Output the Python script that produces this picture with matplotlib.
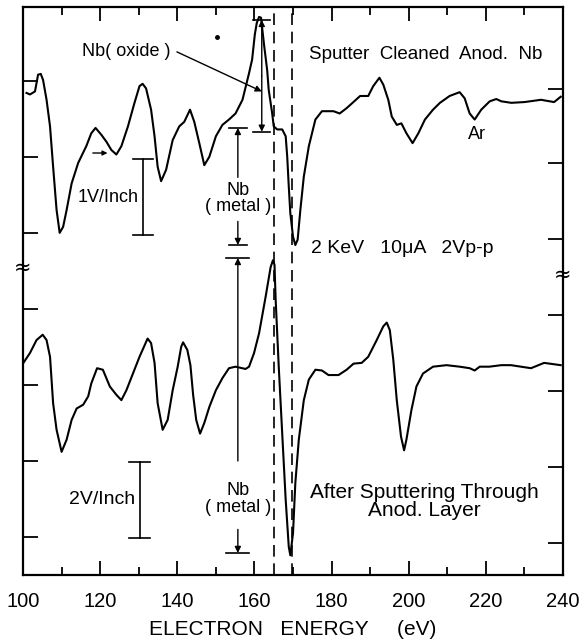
"""
Auger spectra of anodized Nb: sputter cleaned surface vs. after
sputtering through the anodic layer (dN/dE, arbitrary offsets).
Output: out.png (583x644 px)
"""

import matplotlib
matplotlib.use("Agg")
import matplotlib.pyplot as plt

plt.rcParams['font.family'] = ['Liberation Sans', 'DejaVu Sans']

# Upper trace: sputter cleaned anodized Nb (energy eV, signal in chart divisions)
upper_energy = [100.9, 101.8, 103.1, 103.9, 104.6, 105.2, 106.1, 107.0, 107.8, 108.7,
                109.5, 110.4, 111.3, 112.6, 114.3, 116.4, 117.7, 118.8, 120.3, 121.6,
                122.9, 124.2, 125.5, 127.2, 128.9, 130.2, 131.0, 131.9, 133.2, 134.1,
                134.9, 135.8, 137.1, 138.8, 140.5, 141.8, 143.3, 144.4, 145.7, 147.0,
                148.3, 150.0, 151.7, 153.4, 155.1, 156.9, 158.6, 159.4, 160.1, 160.6,
                161.2, 161.7, 162.5, 163.3, 163.7, 164.6, 165.0, 165.9, 167.2, 168.1,
                168.5, 168.9, 169.3, 170.0, 170.6, 171.2, 171.9, 172.8, 174.1, 175.8,
                177.5, 180.5, 182.1, 183.9, 187.4, 189.5, 190.8, 192.4, 193.4, 194.7,
                195.6, 196.9, 198.1, 199.4, 201.0, 202.5, 204.2, 206.3, 208.1, 210.6,
                213.2, 214.5, 215.8, 217.1, 218.8, 221.0, 222.7, 224.0, 226.6, 230.0,
                234.3, 237.7, 239.4]
upper_signal = [6.34, 6.32, 6.36, 6.58, 6.59, 6.51, 6.25, 5.90, 5.37, 4.80,
                4.50, 4.58, 4.80, 5.15, 5.42, 5.64, 5.81, 5.88, 5.79, 5.70,
                5.59, 5.53, 5.64, 5.90, 6.21, 6.43, 6.46, 6.40, 6.12, 5.77,
                5.37, 5.18, 5.33, 5.72, 5.90, 5.96, 6.12, 5.96, 5.68, 5.39,
                5.50, 5.77, 5.92, 5.99, 6.07, 6.25, 6.60, 6.78, 7.11, 7.26,
                7.34, 7.33, 6.97, 6.64, 6.38, 6.07, 5.90, 5.86, 5.86, 5.77,
                5.50, 5.11, 4.76, 4.45, 4.34, 4.41, 4.80, 5.24, 5.64, 5.99,
                6.10, 6.10, 6.07, 6.14, 6.30, 6.30, 6.43, 6.54, 6.45, 6.25,
                6.03, 5.92, 5.94, 5.81, 5.68, 5.81, 5.99, 6.12, 6.21, 6.30,
                6.35, 6.27, 6.07, 5.99, 6.12, 6.23, 6.26, 6.23, 6.21, 6.22,
                6.25, 6.22, 6.29]

# Lower trace: after sputtering through the anodic layer
lower_energy = [100.1, 101.8, 103.5, 105.1, 106.1, 107.0, 107.8, 108.7, 110.0, 111.3,
                112.6, 113.9, 115.6, 116.9, 117.7, 119.2, 120.7, 122.5, 124.2, 125.5,
                126.8, 128.5, 130.2, 132.3, 133.2, 134.1, 134.9, 136.2, 137.5, 138.8,
                140.1, 141.0, 141.5, 142.6, 143.4, 144.1, 144.9, 145.9, 147.0, 148.3,
                150.0, 151.7, 153.4, 155.1, 157.7, 158.6, 159.9, 161.2, 162.9, 164.2,
                164.8, 165.2, 165.5, 166.3, 167.2, 168.1, 168.9, 169.3, 170.0, 170.6,
                171.5, 172.8, 174.1, 175.8, 177.5, 179.2, 181.8, 183.9, 185.7, 187.8,
                189.5, 191.7, 193.4, 194.3, 195.1, 196.0, 196.9, 198.0, 198.8, 199.4,
                200.7, 202.0, 203.7, 206.3, 209.8, 213.2, 215.8, 217.1, 218.4, 220.9,
                224.0, 226.5, 231.7, 235.1, 239.4]
lower_signal = [2.79, 2.92, 3.09, 3.16, 3.09, 2.87, 2.26, 1.91, 1.62, 1.78,
                2.04, 2.19, 2.24, 2.35, 2.52, 2.72, 2.70, 2.48, 2.37, 2.30,
                2.43, 2.65, 2.87, 3.11, 3.05, 2.79, 2.26, 1.91, 2.04, 2.43,
                2.74, 3.00, 3.06, 2.96, 2.76, 2.37, 2.04, 1.86, 2.00, 2.21,
                2.43, 2.59, 2.72, 2.74, 2.71, 2.74, 2.92, 3.18, 3.66, 4.05,
                4.14, 4.08, 3.62, 2.74, 1.86, 0.99, 0.37, 0.26, 0.55, 1.21,
                1.78, 2.30, 2.57, 2.70, 2.69, 2.63, 2.63, 2.70, 2.78, 2.79,
                2.87, 3.09, 3.27, 3.32, 3.22, 2.83, 2.30, 1.82, 1.64, 1.78,
                2.17, 2.48, 2.65, 2.74, 2.76, 2.74, 2.72, 2.69, 2.74, 2.74,
                2.76, 2.76, 2.72, 2.79, 2.76]

# Reference lines (eV) and axis ticks
dashed_energy = [165.0, 169.7]
xtick_major = [100, 120, 140, 160, 180, 200, 220, 240]
xtick_minor = [110, 130, 150, 170, 190, 210, 230]
ytick_left = [0.5, 1.5, 2.5, 3.5, 4.5, 5.5, 6.5]
ytick_right = [0.42, 1.42, 2.42, 3.42, 4.42, 5.42, 6.39]

# Peak-to-peak dimension markers (energy, top, bottom)
oxide_dim = (161.9, 7.30, 5.83)
metal_upper_dim = (155.7, 5.88, 4.34)
metal_lower_dim = (155.7, 4.17, 0.29)

LW = 1.5
TXT = 13

fig = plt.figure(figsize=(5.83, 6.44), dpi=100)
ax = fig.add_axes([0.0395, 0.1071, 0.9262, 0.882])

ax.plot(upper_energy, upper_signal, color='black', linewidth=LW)
ax.plot(lower_energy, lower_signal, color='black', linewidth=LW)

for e in dashed_energy:
    ax.axvline(e, color='black', linewidth=1.2, linestyle=(0, (7, 4)))

ax.set_xlim(100, 240)
ax.set_ylim(0, 7.47)
for side in ax.spines.values():
    side.set_linewidth(1.6)

ax.set_xticks(xtick_major)
ax.set_xticks(xtick_minor, minor=True)
ax.set_xticklabels([str(v) for v in xtick_major], fontsize=14.5)
ax.set_yticks(ytick_left)
ax.set_yticklabels([])
ax.tick_params(axis='x', which='major', direction='in', length=10, width=1.3,
               top=True, pad=12)
ax.tick_params(axis='x', which='minor', direction='in', length=6, width=1.3,
               top=True)
ax.tick_params(axis='y', direction='in', length=11, width=1.3)

ax2 = ax.twinx()
ax2.set_ylim(0, 7.47)
ax2.set_yticks(ytick_right)
ax2.set_yticklabels([])
ax2.tick_params(axis='y', direction='in', length=11, width=1.3)
for side in ax2.spines.values():
    side.set_visible(False)

ax.set_xlabel('ELECTRON   ENERGY     (eV)', fontsize=15, labelpad=7)

# axis break marks
ax.text(0.0, 4.04, '≈', transform=ax.get_yaxis_transform(), fontsize=15,
        ha='center', va='center', family='DejaVu Sans')
ax.text(1.0, 3.95, '≈', transform=ax.get_yaxis_transform(), fontsize=15,
        ha='center', va='center', family='DejaVu Sans')

head = dict(arrowstyle='-|>', color='black', linewidth=1.0,
            mutation_scale=9, shrinkA=0, shrinkB=0)


def dimension(e, top, bottom, bar_half, text_y=None, gap=None, label=None):
    ax.plot([e - bar_half, e + bar_half], [top, top], color='black', linewidth=1.2)
    ax.plot([e - bar_half, e + bar_half], [bottom, bottom], color='black', linewidth=1.2)
    if label is None:
        ax.annotate('', xy=(e, top), xytext=(e, (top + bottom) / 2), arrowprops=head)
        ax.annotate('', xy=(e, bottom), xytext=(e, (top + bottom) / 2), arrowprops=head)
    else:
        ax.annotate('', xy=(e, top), xytext=(e, text_y + gap[0]), arrowprops=head)
        ax.annotate('', xy=(e, bottom), xytext=(e, text_y - gap[1]), arrowprops=head)
        ax.text(e, text_y, label, fontsize=TXT, ha='center', va='center',
                linespacing=0.95)


dimension(*oxide_dim, bar_half=2.2)
dimension(*metal_upper_dim, bar_half=2.4, text_y=4.95, gap=(0.28, 0.30),
          label='Nb\n( metal )')
dimension(*metal_lower_dim, bar_half=3.0, text_y=1.00, gap=(0.50, 0.40),
          label='Nb\n( metal )')

# Nb(oxide) label with leader arrow
ax.text(126.8, 6.89, 'Nb( oxide )', fontsize=TXT, ha='center', va='center')
ax.annotate('', xy=(161.9, 6.36), xytext=(139.9, 6.88), arrowprops=head)

# scale bars
for e, top, bottom, lab, lab_e, fs in [(131.0, 5.47, 4.47, '1V/Inch', 129.9, TXT),
                                       (130.2, 1.49, 0.49, '2V/Inch', 129.0, 14)]:
    ax.plot([e, e], [top, bottom], color='black', linewidth=1.2)
    ax.plot([e - 2.6, e + 2.6], [top, top], color='black', linewidth=1.2)
    ax.plot([e - 2.6, e + 2.6], [bottom, bottom], color='black', linewidth=1.2)
    ax.text(lab_e, (top + bottom) / 2, lab, fontsize=fs, ha='right', va='center')

# small marker arrow on the upper trace
ax.annotate('', xy=(121.9, 5.55), xytext=(118.1, 5.55),
            arrowprops=dict(arrowstyle='-|>', color='black', linewidth=1.0,
                            mutation_scale=7, shrinkA=0, shrinkB=0))
ax.plot([150.3], [7.08], marker='o', markersize=2.5, color='black')

ax.text(174.1, 6.84, 'Sputter  Cleaned  Anod.  Nb', fontsize=13.5, ha='left', va='center')
ax.text(217.7, 5.80, 'Ar', fontsize=TXT, ha='center', va='center')
ax.text(174.6, 4.30, '2 KeV   10μA   2Vp-p', fontsize=14, ha='left', va='center')
ax.text(204.0, 0.97, 'After Sputtering Through\nAnod. Layer', fontsize=15,
        ha='center', va='center', multialignment='center', linespacing=0.9)

fig.savefig('out.png', dpi=100)
